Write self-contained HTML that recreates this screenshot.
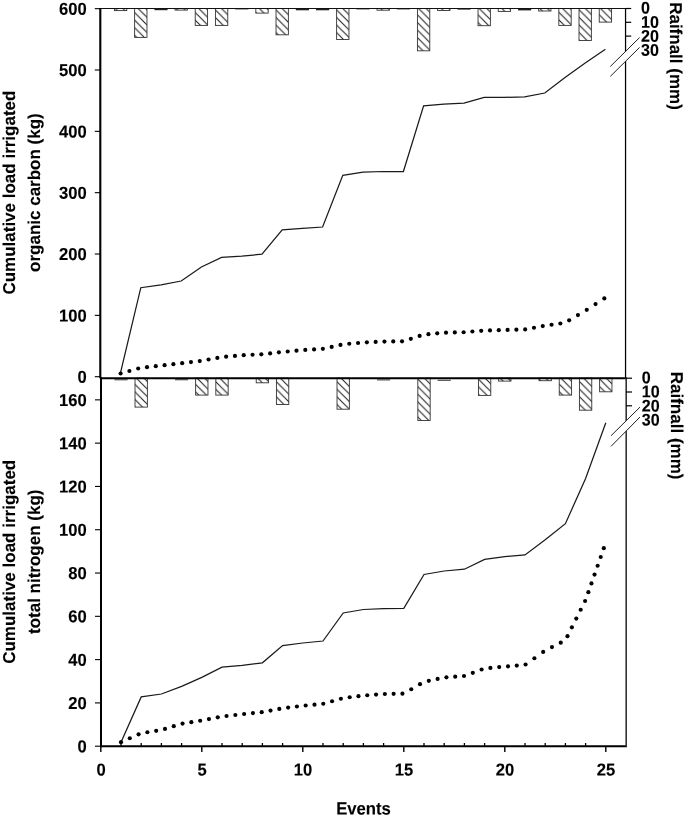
<!DOCTYPE html>
<html><head><meta charset="utf-8"><title>Figure</title>
<style>html,body{margin:0;padding:0;background:#fff;}svg{display:block;will-change:transform;}text{font-family:"Liberation Sans",sans-serif;font-weight:bold;fill:#000;stroke:#000;stroke-width:0.12px;}</style>
</head><body>
<svg width="685" height="817" viewBox="0 0 685 817">
<rect width="685" height="817" fill="#fff"/>
<defs>
<pattern id="h" patternUnits="userSpaceOnUse" x="0" y="6.80" width="7.58" height="7.58"><path d="M-1,-1 L8.58,8.58 M-1,6.58 L1,8.58 M6.58,-1 L8.58,1" stroke="#111" stroke-width="0.95" fill="none"/></pattern>
</defs>
<g>
<rect x="114.43" y="8.50" width="12.35" height="2.10" fill="url(#h)" stroke="#333" stroke-width="0.9"/>
<rect x="134.62" y="8.50" width="12.35" height="28.90" fill="url(#h)" stroke="#333" stroke-width="0.9"/>
<rect x="154.42" y="8.50" width="13.15" height="1.70" fill="#222"/>
<rect x="175.02" y="8.50" width="12.35" height="1.60" fill="url(#h)" stroke="#333" stroke-width="0.9"/>
<rect x="195.22" y="8.50" width="12.35" height="16.90" fill="url(#h)" stroke="#333" stroke-width="0.9"/>
<rect x="215.42" y="8.50" width="12.35" height="16.90" fill="url(#h)" stroke="#333" stroke-width="0.9"/>
<rect x="235.22" y="8.50" width="13.15" height="0.90" fill="#222"/>
<rect x="255.82" y="8.50" width="12.35" height="4.60" fill="url(#h)" stroke="#333" stroke-width="0.9"/>
<rect x="276.02" y="8.50" width="12.35" height="26.30" fill="url(#h)" stroke="#333" stroke-width="0.9"/>
<rect x="295.82" y="8.50" width="13.15" height="1.80" fill="#222"/>
<rect x="316.03" y="8.50" width="13.15" height="1.80" fill="#222"/>
<rect x="336.62" y="8.50" width="12.35" height="31.00" fill="url(#h)" stroke="#333" stroke-width="0.9"/>
<rect x="356.43" y="8.50" width="13.15" height="0.90" fill="#222"/>
<rect x="377.03" y="8.50" width="12.35" height="1.70" fill="url(#h)" stroke="#333" stroke-width="0.9"/>
<rect x="396.82" y="8.50" width="13.15" height="0.90" fill="#222"/>
<rect x="417.43" y="8.50" width="12.35" height="42.30" fill="url(#h)" stroke="#333" stroke-width="0.9"/>
<rect x="437.62" y="8.50" width="12.35" height="2.00" fill="url(#h)" stroke="#333" stroke-width="0.9"/>
<rect x="457.43" y="8.50" width="13.15" height="1.10" fill="#222"/>
<rect x="478.03" y="8.50" width="12.35" height="17.20" fill="url(#h)" stroke="#333" stroke-width="0.9"/>
<rect x="498.22" y="8.50" width="12.35" height="2.90" fill="url(#h)" stroke="#333" stroke-width="0.9"/>
<rect x="518.03" y="8.50" width="13.15" height="1.90" fill="#222"/>
<rect x="538.62" y="8.50" width="12.35" height="2.50" fill="url(#h)" stroke="#333" stroke-width="0.9"/>
<rect x="558.83" y="8.50" width="12.35" height="16.90" fill="url(#h)" stroke="#333" stroke-width="0.9"/>
<rect x="579.02" y="8.50" width="12.35" height="32.00" fill="url(#h)" stroke="#333" stroke-width="0.9"/>
<rect x="599.23" y="8.50" width="12.35" height="13.60" fill="url(#h)" stroke="#333" stroke-width="0.9"/>
<line x1="114.42" y1="379.80" x2="127.58" y2="379.80" stroke="#2a2a2a" stroke-width="0.95"/>
<rect x="135.02" y="378.20" width="12.35" height="28.90" fill="url(#h)" stroke="#333" stroke-width="0.9"/>
<line x1="175.02" y1="379.75" x2="188.17" y2="379.75" stroke="#2a2a2a" stroke-width="0.95"/>
<rect x="195.62" y="378.20" width="12.35" height="16.90" fill="url(#h)" stroke="#333" stroke-width="0.9"/>
<rect x="215.82" y="378.20" width="12.35" height="16.90" fill="url(#h)" stroke="#333" stroke-width="0.9"/>
<rect x="256.22" y="378.20" width="12.35" height="4.60" fill="url(#h)" stroke="#333" stroke-width="0.9"/>
<rect x="276.42" y="378.20" width="12.35" height="26.30" fill="url(#h)" stroke="#333" stroke-width="0.9"/>
<rect x="337.02" y="378.20" width="12.35" height="31.00" fill="url(#h)" stroke="#333" stroke-width="0.9"/>
<line x1="377.03" y1="379.90" x2="390.18" y2="379.90" stroke="#2a2a2a" stroke-width="0.95"/>
<rect x="417.82" y="378.20" width="12.35" height="42.30" fill="url(#h)" stroke="#333" stroke-width="0.9"/>
<line x1="437.62" y1="380.30" x2="450.77" y2="380.30" stroke="#2a2a2a" stroke-width="0.95"/>
<rect x="478.43" y="378.20" width="12.35" height="17.20" fill="url(#h)" stroke="#333" stroke-width="0.9"/>
<rect x="498.62" y="378.20" width="12.35" height="2.90" fill="url(#h)" stroke="#333" stroke-width="0.9"/>
<rect x="539.02" y="378.20" width="12.35" height="2.50" fill="url(#h)" stroke="#333" stroke-width="0.9"/>
<rect x="559.23" y="378.20" width="12.35" height="16.90" fill="url(#h)" stroke="#333" stroke-width="0.9"/>
<rect x="579.42" y="378.20" width="12.35" height="32.00" fill="url(#h)" stroke="#333" stroke-width="0.9"/>
<rect x="599.62" y="378.20" width="12.35" height="13.60" fill="url(#h)" stroke="#333" stroke-width="0.9"/>
</g>
<g stroke="#000" fill="none">
<line x1="100.3" y1="7.9" x2="100.3" y2="378.2" stroke-width="2.1"/>
<line x1="101.0" y1="377.2" x2="101.0" y2="747.2" stroke-width="2"/>
<line x1="99.3" y1="8.5" x2="626.6" y2="8.5" stroke-width="1.15" stroke="#111"/>
<line x1="100.0" y1="378.2" x2="626.7" y2="378.2" stroke-width="2.1"/>
<line x1="100.0" y1="746.2" x2="626.9" y2="746.2" stroke-width="2"/>
<line x1="625.55" y1="8.5" x2="625.55" y2="378.2" stroke-width="1.25"/>
<line x1="626.2" y1="378.2" x2="626.2" y2="746.2" stroke-width="1.6" stroke="#333"/>
<line x1="94.8" y1="376.70" x2="100.3" y2="376.70" stroke-width="1.1"/>
<line x1="94.8" y1="315.36" x2="100.3" y2="315.36" stroke-width="1.1"/>
<line x1="94.8" y1="254.02" x2="100.3" y2="254.02" stroke-width="1.1"/>
<line x1="94.8" y1="192.68" x2="100.3" y2="192.68" stroke-width="1.1"/>
<line x1="94.8" y1="131.34" x2="100.3" y2="131.34" stroke-width="1.1"/>
<line x1="94.8" y1="70.00" x2="100.3" y2="70.00" stroke-width="1.1"/>
<line x1="94.8" y1="8.66" x2="100.3" y2="8.66" stroke-width="1.1"/>
<line x1="95" y1="746.20" x2="101.0" y2="746.20" stroke-width="1.1"/>
<line x1="95" y1="702.91" x2="101.0" y2="702.91" stroke-width="1.1"/>
<line x1="95" y1="659.61" x2="101.0" y2="659.61" stroke-width="1.1"/>
<line x1="95" y1="616.32" x2="101.0" y2="616.32" stroke-width="1.1"/>
<line x1="95" y1="573.03" x2="101.0" y2="573.03" stroke-width="1.1"/>
<line x1="95" y1="529.73" x2="101.0" y2="529.73" stroke-width="1.1"/>
<line x1="95" y1="486.44" x2="101.0" y2="486.44" stroke-width="1.1"/>
<line x1="95" y1="443.14" x2="101.0" y2="443.14" stroke-width="1.1"/>
<line x1="95" y1="399.85" x2="101.0" y2="399.85" stroke-width="1.1"/>
<line x1="100.80" y1="746.2" x2="100.80" y2="751.9" stroke-width="1.4"/>
<line x1="121.00" y1="746.2" x2="121.00" y2="743.0" stroke-width="1.3"/>
<line x1="141.20" y1="746.2" x2="141.20" y2="743.0" stroke-width="1.3"/>
<line x1="161.40" y1="746.2" x2="161.40" y2="743.0" stroke-width="1.3"/>
<line x1="181.60" y1="746.2" x2="181.60" y2="743.0" stroke-width="1.3"/>
<line x1="201.80" y1="746.2" x2="201.80" y2="751.9" stroke-width="1.4"/>
<line x1="222.00" y1="746.2" x2="222.00" y2="743.0" stroke-width="1.3"/>
<line x1="242.20" y1="746.2" x2="242.20" y2="743.0" stroke-width="1.3"/>
<line x1="262.40" y1="746.2" x2="262.40" y2="743.0" stroke-width="1.3"/>
<line x1="282.60" y1="746.2" x2="282.60" y2="743.0" stroke-width="1.3"/>
<line x1="302.80" y1="746.2" x2="302.80" y2="751.9" stroke-width="1.4"/>
<line x1="323.00" y1="746.2" x2="323.00" y2="743.0" stroke-width="1.3"/>
<line x1="343.20" y1="746.2" x2="343.20" y2="743.0" stroke-width="1.3"/>
<line x1="363.40" y1="746.2" x2="363.40" y2="743.0" stroke-width="1.3"/>
<line x1="383.60" y1="746.2" x2="383.60" y2="743.0" stroke-width="1.3"/>
<line x1="403.80" y1="746.2" x2="403.80" y2="751.9" stroke-width="1.4"/>
<line x1="424.00" y1="746.2" x2="424.00" y2="743.0" stroke-width="1.3"/>
<line x1="444.20" y1="746.2" x2="444.20" y2="743.0" stroke-width="1.3"/>
<line x1="464.40" y1="746.2" x2="464.40" y2="743.0" stroke-width="1.3"/>
<line x1="484.60" y1="746.2" x2="484.60" y2="743.0" stroke-width="1.3"/>
<line x1="504.80" y1="746.2" x2="504.80" y2="751.9" stroke-width="1.4"/>
<line x1="525.00" y1="746.2" x2="525.00" y2="743.0" stroke-width="1.3"/>
<line x1="545.20" y1="746.2" x2="545.20" y2="743.0" stroke-width="1.3"/>
<line x1="565.40" y1="746.2" x2="565.40" y2="743.0" stroke-width="1.3"/>
<line x1="585.60" y1="746.2" x2="585.60" y2="743.0" stroke-width="1.3"/>
<line x1="605.80" y1="746.2" x2="605.80" y2="751.9" stroke-width="1.4"/>
<line x1="626.0" y1="8.50" x2="631.2" y2="8.50" stroke-width="1.2"/>
<line x1="626.0" y1="22.30" x2="631.2" y2="22.30" stroke-width="1.2"/>
<line x1="626.0" y1="36.10" x2="631.2" y2="36.10" stroke-width="1.2"/>
<line x1="626.0" y1="378.20" x2="632.0" y2="378.20" stroke-width="1.2"/>
<line x1="626.0" y1="392.00" x2="632.0" y2="392.00" stroke-width="1.2"/>
<line x1="626.0" y1="405.80" x2="632.0" y2="405.80" stroke-width="1.2"/>
</g>
<polygon points="610.3,66.5 639.6,37.5 639.6,47.4 610.3,76.4" fill="#fff"/>
<polygon points="611,435.75 640,407.1 640,417 611,446.4" fill="#fff"/>
<g stroke="#222" stroke-width="1" fill="none">
<line x1="610.3" y1="66.5" x2="639.6" y2="37.5"/><line x1="610.3" y1="76.4" x2="639.6" y2="47.4"/>
<line x1="611" y1="435.75" x2="640" y2="407.1"/><line x1="611" y1="446.4" x2="640" y2="417"/>
</g>
<polyline points="120.60,372.40 140.80,287.70 161.00,284.80 181.20,281.00 201.40,267.00 221.60,257.40 241.80,256.20 262.00,254.20 282.20,229.90 302.40,228.30 322.60,227.00 342.80,175.30 363.00,172.10 383.20,171.50 403.40,171.50 423.60,105.80 443.80,104.10 464.00,103.20 484.20,97.40 504.40,97.40 524.60,96.80 544.80,93.00 565.00,77.50 585.20,62.90 605.40,49.20" fill="none" stroke="#1a1a1a" stroke-width="1.25" stroke-linejoin="miter"/>
<polyline points="121.00,742.20 141.20,696.90 161.40,694.00 181.60,686.40 201.80,677.40 222.00,667.20 242.20,665.40 262.40,662.80 282.60,645.60 302.80,643.00 323.00,641.00 343.20,613.00 363.40,609.50 383.60,608.60 403.80,608.30 424.00,574.50 444.20,571.00 464.40,569.20 484.60,559.40 504.80,556.70 525.00,554.90 545.20,539.80 565.40,523.70 585.60,478.50 605.80,422.80" fill="none" stroke="#1a1a1a" stroke-width="1.25" stroke-linejoin="miter"/>
<g fill="#000">
<circle cx="120.60" cy="373.50" r="2.08"/>
<circle cx="129.40" cy="371.02" r="2.08"/>
<circle cx="138.19" cy="368.54" r="2.08"/>
<circle cx="146.99" cy="367.13" r="2.08"/>
<circle cx="155.78" cy="366.17" r="2.08"/>
<circle cx="164.58" cy="365.19" r="2.08"/>
<circle cx="173.37" cy="364.19" r="2.08"/>
<circle cx="182.17" cy="363.18" r="2.08"/>
<circle cx="190.96" cy="362.12" r="2.08"/>
<circle cx="199.75" cy="361.05" r="2.08"/>
<circle cx="208.55" cy="359.52" r="2.08"/>
<circle cx="217.34" cy="357.89" r="2.08"/>
<circle cx="226.14" cy="356.70" r="2.08"/>
<circle cx="234.94" cy="355.91" r="2.08"/>
<circle cx="243.73" cy="355.20" r="2.08"/>
<circle cx="252.53" cy="354.77" r="2.08"/>
<circle cx="261.32" cy="354.33" r="2.08"/>
<circle cx="270.12" cy="353.38" r="2.08"/>
<circle cx="278.91" cy="352.37" r="2.08"/>
<circle cx="287.70" cy="351.48" r="2.08"/>
<circle cx="296.50" cy="350.65" r="2.08"/>
<circle cx="305.30" cy="349.93" r="2.08"/>
<circle cx="314.09" cy="349.41" r="2.08"/>
<circle cx="322.88" cy="348.84" r="2.08"/>
<circle cx="331.68" cy="346.88" r="2.08"/>
<circle cx="340.48" cy="344.92" r="2.08"/>
<circle cx="349.27" cy="343.79" r="2.08"/>
<circle cx="358.06" cy="342.96" r="2.08"/>
<circle cx="366.86" cy="342.33" r="2.08"/>
<circle cx="375.66" cy="341.94" r="2.08"/>
<circle cx="384.45" cy="341.58" r="2.08"/>
<circle cx="393.25" cy="341.45" r="2.08"/>
<circle cx="402.04" cy="341.32" r="2.08"/>
<circle cx="410.83" cy="338.83" r="2.08"/>
<circle cx="419.63" cy="335.92" r="2.08"/>
<circle cx="428.43" cy="334.15" r="2.08"/>
<circle cx="437.22" cy="333.32" r="2.08"/>
<circle cx="446.01" cy="332.65" r="2.08"/>
<circle cx="454.81" cy="332.43" r="2.08"/>
<circle cx="463.61" cy="332.21" r="2.08"/>
<circle cx="472.40" cy="331.53" r="2.08"/>
<circle cx="481.19" cy="330.84" r="2.08"/>
<circle cx="489.99" cy="330.43" r="2.08"/>
<circle cx="498.79" cy="330.17" r="2.08"/>
<circle cx="507.58" cy="329.92" r="2.08"/>
<circle cx="516.38" cy="329.70" r="2.08"/>
<circle cx="525.17" cy="329.39" r="2.08"/>
<circle cx="533.97" cy="327.74" r="2.08"/>
<circle cx="542.76" cy="326.08" r="2.08"/>
<circle cx="551.56" cy="324.73" r="2.08"/>
<circle cx="560.35" cy="323.47" r="2.08"/>
<circle cx="569.14" cy="320.34" r="2.08"/>
<circle cx="577.94" cy="315.11" r="2.08"/>
<circle cx="586.74" cy="309.80" r="2.08"/>
<circle cx="595.53" cy="304.10" r="2.08"/>
<circle cx="604.33" cy="298.40" r="2.08"/>
<circle cx="121.00" cy="742.20" r="2.08"/>
<circle cx="129.79" cy="738.28" r="2.08"/>
<circle cx="138.59" cy="734.36" r="2.08"/>
<circle cx="147.38" cy="732.22" r="2.08"/>
<circle cx="156.18" cy="730.83" r="2.08"/>
<circle cx="164.97" cy="728.89" r="2.08"/>
<circle cx="173.77" cy="726.14" r="2.08"/>
<circle cx="182.56" cy="723.55" r="2.08"/>
<circle cx="191.36" cy="722.15" r="2.08"/>
<circle cx="200.16" cy="720.76" r="2.08"/>
<circle cx="208.95" cy="719.08" r="2.08"/>
<circle cx="217.75" cy="717.34" r="2.08"/>
<circle cx="226.54" cy="715.98" r="2.08"/>
<circle cx="235.34" cy="714.98" r="2.08"/>
<circle cx="244.13" cy="714.00" r="2.08"/>
<circle cx="252.92" cy="713.09" r="2.08"/>
<circle cx="261.72" cy="712.17" r="2.08"/>
<circle cx="270.51" cy="710.57" r="2.08"/>
<circle cx="279.31" cy="708.92" r="2.08"/>
<circle cx="288.11" cy="707.62" r="2.08"/>
<circle cx="296.90" cy="706.53" r="2.08"/>
<circle cx="305.69" cy="705.51" r="2.08"/>
<circle cx="314.49" cy="704.64" r="2.08"/>
<circle cx="323.28" cy="703.72" r="2.08"/>
<circle cx="332.08" cy="701.24" r="2.08"/>
<circle cx="340.88" cy="698.76" r="2.08"/>
<circle cx="349.67" cy="697.27" r="2.08"/>
<circle cx="358.46" cy="696.14" r="2.08"/>
<circle cx="367.26" cy="695.21" r="2.08"/>
<circle cx="376.06" cy="694.56" r="2.08"/>
<circle cx="384.85" cy="693.98" r="2.08"/>
<circle cx="393.64" cy="693.80" r="2.08"/>
<circle cx="402.44" cy="693.63" r="2.08"/>
<circle cx="411.24" cy="689.29" r="2.08"/>
<circle cx="420.03" cy="684.20" r="2.08"/>
<circle cx="428.82" cy="680.85" r="2.08"/>
<circle cx="437.62" cy="678.93" r="2.08"/>
<circle cx="446.42" cy="677.34" r="2.08"/>
<circle cx="455.21" cy="676.68" r="2.08"/>
<circle cx="464.00" cy="676.03" r="2.08"/>
<circle cx="472.80" cy="672.84" r="2.08"/>
<circle cx="481.60" cy="669.53" r="2.08"/>
<circle cx="490.39" cy="667.88" r="2.08"/>
<circle cx="499.19" cy="667.10" r="2.08"/>
<circle cx="507.98" cy="666.33" r="2.08"/>
<circle cx="516.77" cy="665.59" r="2.08"/>
<circle cx="525.57" cy="664.49" r="2.08"/>
<circle cx="534.37" cy="658.22" r="2.08"/>
<circle cx="543.16" cy="651.95" r="2.08"/>
<circle cx="551.96" cy="647.09" r="2.08"/>
<circle cx="560.75" cy="642.65" r="2.08"/>
<circle cx="567.48" cy="636.15" r="2.08"/>
<circle cx="571.89" cy="627.36" r="2.08"/>
<circle cx="576.29" cy="618.56" r="2.08"/>
<circle cx="580.70" cy="609.77" r="2.08"/>
<circle cx="585.11" cy="600.97" r="2.08"/>
<circle cx="588.35" cy="592.18" r="2.08"/>
<circle cx="591.45" cy="583.38" r="2.08"/>
<circle cx="594.54" cy="574.59" r="2.08"/>
<circle cx="597.64" cy="565.79" r="2.08"/>
<circle cx="600.73" cy="557.00" r="2.08"/>
<circle cx="603.83" cy="548.20" r="2.08"/>
</g>
<g font-size="16.6" text-anchor="end" style="text-rendering:geometricPrecision">
<text transform="translate(86.75,382.75) rotate(0.03) scale(1,1.04)">0</text>
<text transform="translate(86.75,321.41) rotate(0.03) scale(1,1.04)">100</text>
<text transform="translate(86.75,260.07) rotate(0.03) scale(1,1.04)">200</text>
<text transform="translate(86.75,198.73) rotate(0.03) scale(1,1.04)">300</text>
<text transform="translate(86.75,137.39) rotate(0.03) scale(1,1.04)">400</text>
<text transform="translate(86.75,76.05) rotate(0.03) scale(1,1.04)">500</text>
<text transform="translate(86.75,14.71) rotate(0.03) scale(1,1.04)">600</text>
<text transform="translate(86.75,752.25) rotate(0.03) scale(1,1.04)">0</text>
<text transform="translate(86.75,708.96) rotate(0.03) scale(1,1.04)">20</text>
<text transform="translate(86.75,665.66) rotate(0.03) scale(1,1.04)">40</text>
<text transform="translate(86.75,622.37) rotate(0.03) scale(1,1.04)">60</text>
<text transform="translate(86.75,579.08) rotate(0.03) scale(1,1.04)">80</text>
<text transform="translate(86.75,535.78) rotate(0.03) scale(1,1.04)">100</text>
<text transform="translate(86.75,492.49) rotate(0.03) scale(1,1.04)">120</text>
<text transform="translate(86.75,449.19) rotate(0.03) scale(1,1.04)">140</text>
<text transform="translate(86.75,405.90) rotate(0.03) scale(1,1.04)">160</text>
</g>
<g font-size="16.6" text-anchor="middle" style="text-rendering:geometricPrecision">
<text transform="translate(101.00,775.5) rotate(0.03) scale(1,1.04)">0</text>
<text transform="translate(202.00,775.5) rotate(0.03) scale(1,1.04)">5</text>
<text transform="translate(303.00,775.5) rotate(0.03) scale(1,1.04)">10</text>
<text transform="translate(404.00,775.5) rotate(0.03) scale(1,1.04)">15</text>
<text transform="translate(505.00,775.5) rotate(0.03) scale(1,1.04)">20</text>
<text transform="translate(606.00,775.5) rotate(0.03) scale(1,1.04)">25</text>
</g>
<text transform="translate(363.5,814.4) rotate(0.03) scale(1,1.06)" font-size="16.7" text-anchor="middle" style="text-rendering:geometricPrecision">Events</text>
<g font-size="16.1" style="text-rendering:geometricPrecision">
<text transform="translate(641.1,13.60) rotate(0.03) scale(1,1.05)">0</text>
<text transform="translate(641.1,27.65) rotate(0.03) scale(1,1.05)">10</text>
<text transform="translate(641.1,41.70) rotate(0.03) scale(1,1.05)">20</text>
<text transform="translate(641.1,55.75) rotate(0.03) scale(1,1.05)">30</text>
<text transform="translate(641.8,383.30) rotate(0.03) scale(1,1.05)">0</text>
<text transform="translate(641.8,397.35) rotate(0.03) scale(1,1.05)">10</text>
<text transform="translate(641.8,411.40) rotate(0.03) scale(1,1.05)">20</text>
<text transform="translate(641.8,425.45) rotate(0.03) scale(1,1.05)">30</text>
</g>
<text transform="translate(15.2,192.6) rotate(-90) scale(1,1.01)" font-size="17" text-anchor="middle" style="text-rendering:geometricPrecision">Cumulative load irrigated</text>
<text transform="translate(40.4,192.6) rotate(-90) scale(1,1.01)" font-size="17" text-anchor="middle" style="text-rendering:geometricPrecision">organic carbon (kg)</text>
<text transform="translate(15.2,561.8) rotate(-90) scale(1,1.01)" font-size="17" text-anchor="middle" style="text-rendering:geometricPrecision">Cumulative load irrigated</text>
<text transform="translate(40.4,561.8) rotate(-90) scale(1,1.01)" font-size="17" text-anchor="middle" style="text-rendering:geometricPrecision">total nitrogen (kg)</text>
<text transform="translate(670.3,56.0) rotate(90) scale(1,1.01)" font-size="17" text-anchor="middle" style="text-rendering:geometricPrecision">Raifnall (mm)</text>
<text transform="translate(670.7,425.6) rotate(90) scale(1,1.01)" font-size="17" text-anchor="middle" style="text-rendering:geometricPrecision">Raifnall (mm)</text>
</svg></body></html>
